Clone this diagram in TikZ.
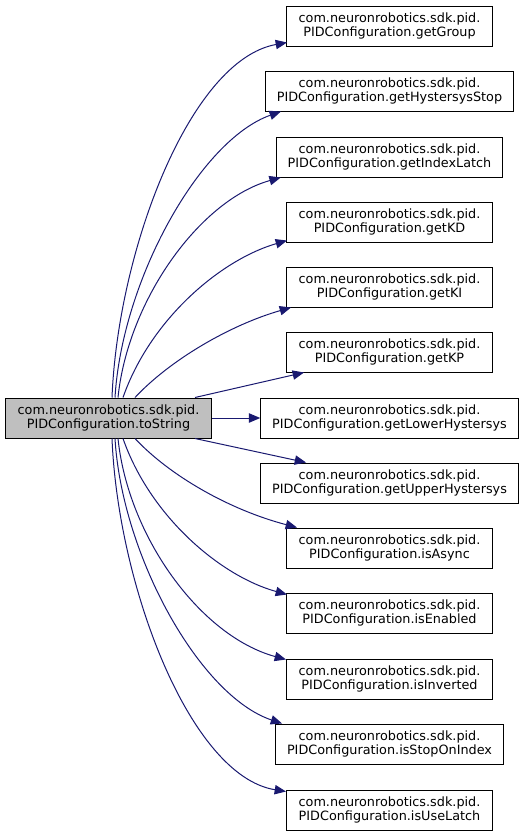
\documentclass[tikz,border=0pt]{standalone}
\usepackage{fontspec}
\setmainfont{DejaVu Sans}
\usepackage{xcolor}
\usetikzlibrary{arrows.meta,calc}
\definecolor{cEdge}{HTML}{191970}
\definecolor{cSrc}{HTML}{BFBFBF}
\tikzset{
  fn/.style={draw=black, fill=white, rectangle, line width=0.75pt, align=center, inner xsep=8.6pt, inner ysep=0pt, minimum width=154.5pt, minimum height=30pt, font=\fontsize{9.6}{10.2}\selectfont},
  fnsrc/.style={fn, fill=cSrc},
  call/.style={cEdge, line width=0.75pt, -{Triangle[length=8.5pt,width=7pt]}},
}
\newcommand{\callc}[4]{\draw[call] (#1) .. controls (#2) and (#3) .. (#4);}

\begin{document}
\begin{tikzpicture}[x=0.75pt, y=-0.75pt]
\useasboundingbox (0,0) rectangle (525,836);
\node[fnsrc] (tostr) at (108.5,418) {com.neuronrobotics.sdk.pid.\\PIDConfiguration.toString};
\node[fn] (grp) at (389.5,26) {com.neuronrobotics.sdk.pid.\\PIDConfiguration.getGroup};
\node[fn] (hstop) at (389.5,91) {com.neuronrobotics.sdk.pid.\\PIDConfiguration.getHystersysStop};
\node[fn] (ilatch) at (389.5,157) {com.neuronrobotics.sdk.pid.\\PIDConfiguration.getIndexLatch};
\node[fn] (kd) at (389.5,222) {com.neuronrobotics.sdk.pid.\\PIDConfiguration.getKD};
\node[fn] (ki) at (389.5,287) {com.neuronrobotics.sdk.pid.\\PIDConfiguration.getKI};
\node[fn] (kp) at (389.5,352) {com.neuronrobotics.sdk.pid.\\PIDConfiguration.getKP};
\node[fn] (lhyst) at (389.5,418) {com.neuronrobotics.sdk.pid.\\PIDConfiguration.getLowerHystersys};
\node[fn] (uhyst) at (389.5,483) {com.neuronrobotics.sdk.pid.\\PIDConfiguration.getUpperHystersys};
\node[fn] (async) at (389.5,548) {com.neuronrobotics.sdk.pid.\\PIDConfiguration.isAsync};
\node[fn] (enab) at (389.5,613) {com.neuronrobotics.sdk.pid.\\PIDConfiguration.isEnabled};
\node[fn] (inv) at (389.5,679) {com.neuronrobotics.sdk.pid.\\PIDConfiguration.isInverted};
\node[fn] (stopidx) at (389.5,744) {com.neuronrobotics.sdk.pid.\\PIDConfiguration.isStopOnIndex};
\node[fn] (uselatch) at (389.5,810) {com.neuronrobotics.sdk.pid.\\PIDConfiguration.isUseLatch};
% calls above
\callc{$(tostr.north)+(3.5,0)$}{118,250}{190,60}{$(grp.south west)+(1,-4)$}
\callc{$(tostr.north)+(6.5,0)$}{122,280}{200,140}{$(hstop.south west)+(16,0)$}
\callc{$(tostr.north)+(9.5,0)$}{128,300}{200,200}{$(ilatch.south west)+(5,0)$}
\callc{$(tostr.north)+(14.5,0)$}{150,320}{220,260}{$(kd.south west)+(1,-2)$}
\callc{$(tostr.north)+(26.5,0)$}{170,360}{230,325}{$(ki.south west)+(5,0)$}
\draw[call] ($(tostr.north)+(86.5,0)$) -- ($(kp.south west)+(18,0)$);
\draw[call] (tostr.east) -- (lhyst.west);
% calls below
\draw[call] ($(tostr.south)+(86.5,0)$) -- ($(uhyst.north west)+(46,0)$);
\callc{$(tostr.south)+(26.5,0)$}{170,476}{230,510}{$(async.north west)+(11,0)$}
\callc{$(tostr.south)+(14.5,0)$}{150,516}{220,576}{$(enab.north west)+(1,2)$}
\callc{$(tostr.south)+(9.5,0)$}{128,536}{200,636}{$(inv.north west)+(0,1)$}
\callc{$(tostr.south)+(6.5,0)$}{122,556}{200,696}{$(stopidx.north west)+(7,0)$}
\callc{$(tostr.south)+(3.5,0)$}{118,586}{190,776}{$(uselatch.north west)+(0,2)$}
\end{tikzpicture}
\end{document}
